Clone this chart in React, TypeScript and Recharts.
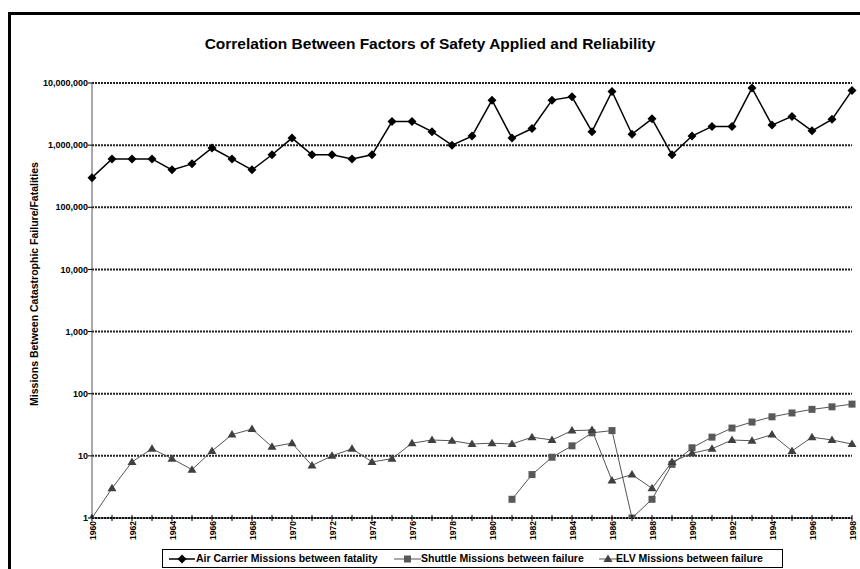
import { LineChart, Line, XAxis, YAxis, CartesianGrid } from "recharts";

const years = [
  1960, 1961, 1962, 1963, 1964, 1965, 1966, 1967, 1968, 1969,
  1970, 1971, 1972, 1973, 1974, 1975, 1976, 1977, 1978, 1979,
  1980, 1981, 1982, 1983, 1984, 1985, 1986, 1987, 1988, 1989,
  1990, 1991, 1992, 1993, 1994, 1995, 1996, 1997, 1998,
];

const airCarrier = [
  300000, 600000, 600000, 600000, 400000, 500000, 900000, 600000, 400000, 700000,
  1300000, 700000, 700000, 600000, 700000, 2400000, 2400000, 1650000, 1000000, 1400000,
  5300000, 1300000, 1850000, 5300000, 6000000, 1650000, 7300000, 1500000, 2650000, 700000,
  1400000, 2000000, 2000000, 8300000, 2100000, 2900000, 1700000, 2600000, 7600000,
];

const shuttle = [
  null, null, null, null, null, null, null, null, null, null,
  null, null, null, null, null, null, null, null, null, null,
  null, 2, 5, 9.5, 14.5, 23.5, 25.5, 1, 2, 7.3,
  13.5, 20, 28, 35, 42.5, 49, 56, 61.5, 68,
];

const elv = [
  1, 3, 8, 13, 9, 6, 12, 22, 27, 14,
  16, 7, 10, 13, 8, 9, 16, 18, 17.5, 15.5,
  16, 15.5, 20, 18, 25.5, 26, 4, 5, 3, 8,
  11, 13, 18, 17.5, 22, 12, 20, 18, 15.5,
];

const yTicks = [1, 10, 100, 1000, 10000, 100000, 1000000, 10000000];

const seriesNames = [
  "Air Carrier Missions between fatality",
  "Shuttle Missions between failure",
  "ELV Missions between failure",
];

const data = years.map((year, i) => ({
  year,
  air: airCarrier[i],
  shuttle: shuttle[i],
  elv: elv[i],
}));

const FONT = "'Liberation Sans', Arial, sans-serif";

type Shape = "diamond" | "square" | "triangle";

function marker(shape: Shape, cx: number, cy: number, fill: string) {
  if (shape === "diamond") {
    return (
      <polygon
        points={`${cx},${cy - 4.5} ${cx + 4.5},${cy} ${cx},${cy + 4.5} ${cx - 4.5},${cy}`}
        fill={fill}
      />
    );
  }
  if (shape === "square") {
    return <rect x={cx - 3.5} y={cy - 3.5} width={7} height={7} fill={fill} />;
  }
  return (
    <polygon
      points={`${cx},${cy - 4.5} ${cx + 4.5},${cy + 3} ${cx - 4.5},${cy + 3}`}
      fill={fill}
    />
  );
}

const makeDot = (shape: Shape, fill: string) => (props: any) => {
  const { cx, cy, index } = props;
  if (cx == null || cy == null || props.value == null) return <g key={index} />;
  return <g key={index}>{marker(shape, cx, cy, fill)}</g>;
};

const XTick = (props: any) => {
  const { x, y, payload } = props;
  return (
    <g>
      <line x1={x} x2={x} y1={y - 3} y2={y + 3} stroke="#000" />
      {payload.value % 2 === 0 && (
        <text
          transform={`translate(${x + 3.5},${y + 3}) rotate(-90)`}
          textAnchor="end"
          fontSize={8.5}
          fontWeight="bold"
          fontFamily={FONT}
          fill="#000"
        >
          {payload.value}
        </text>
      )}
    </g>
  );
};

// legend: left of line sample, line length, left of text
const legendItems: { name: string; shape: Shape; color: string; line: string; x: number; w: number; tx: number }[] = [
  { name: seriesNames[0], shape: "diamond", color: "#000", line: "#000", x: 6, w: 26, tx: 33 },
  { name: seriesNames[1], shape: "square", color: "#595959", line: "#555", x: 231, w: 27, tx: 258 },
  { name: seriesNames[2], shape: "triangle", color: "#404040", line: "#555", x: 436, w: 18, tx: 453 },
];

export default function App() {
  return (
    <div
      style={{
        position: "absolute",
        left: 0,
        top: 0,
        width: 860,
        height: 569,
        overflow: "hidden",
        background: "#fff",
        fontFamily: FONT,
      }}
    >
      <div
        style={{
          position: "absolute",
          left: 8,
          top: 12,
          width: 900,
          height: 600,
          border: "3px solid #000",
          boxSizing: "border-box",
        }}
      />
      <div style={{ position: "absolute", left: 0, top: 0 }}>
        <LineChart
          width={860}
          height={569}
          data={data}
          margin={{ top: 83, right: 8, left: 32, bottom: 21 }}
        >
          <CartesianGrid
            vertical={false}
            stroke="#222"
            strokeWidth={2}
            strokeDasharray="2 1"
          />
          <XAxis
            dataKey="year"
            type="number"
            domain={[1960, 1998]}
            ticks={years}
            interval={0}
            height={30}
            axisLine={{ stroke: "#000" }}
            tickLine={false}
            tickSize={0}
            tickMargin={0}
            tick={<XTick />}
          />
          <YAxis
            scale="log"
            domain={[1, 10000000]}
            ticks={yTicks}
            interval={0}
            allowDataOverflow
            width={60}
            axisLine={{ stroke: "#555" }}
            tickLine={{ stroke: "#000" }}
            tickSize={4}
            tickMargin={0}
            tick={{ fontSize: 9, fontWeight: "bold", fill: "#000", fontFamily: FONT }}
            tickFormatter={(v: number) => v.toLocaleString("en-US")}
          />
          <Line
            dataKey="air"
            name={seriesNames[0]}
            stroke="#000"
            strokeWidth={1.5}
            dot={makeDot("diamond", "#000")}
            isAnimationActive={false}
          />
          <Line
            dataKey="shuttle"
            name={seriesNames[1]}
            stroke="#555"
            strokeWidth={1}
            dot={makeDot("square", "#595959")}
            isAnimationActive={false}
          />
          <Line
            dataKey="elv"
            name={seriesNames[2]}
            stroke="#555"
            strokeWidth={1}
            dot={makeDot("triangle", "#404040")}
            isAnimationActive={false}
          />
          <text
            x={430}
            y={49}
            textAnchor="middle"
            fontSize={15.5}
            fontWeight="bold"
            fontFamily={FONT}
            fill="#000"
          >
            Correlation Between Factors of Safety Applied and Reliability
          </text>
          <text
            transform="translate(38,284) rotate(-90)"
            textAnchor="middle"
            fontSize={10.5}
            fontWeight="bold"
            fontFamily={FONT}
            fill="#000"
          >
            Missions Between Catastrophic Failure/Fatalities
          </text>
        </LineChart>
      </div>
      <div
        style={{
          position: "absolute",
          left: 162,
          top: 549,
          width: 621,
          height: 19,
          border: "1px solid #000",
          boxSizing: "border-box",
          fontSize: 10.5,
          fontWeight: "bold",
        }}
      >
        {legendItems.map((it) => (
          <div key={it.name}>
            <svg
              width={it.w}
              height={12}
              style={{ position: "absolute", left: it.x, top: 2.5 }}
            >
              <line
                x1={0}
                x2={it.w}
                y1={6}
                y2={6}
                stroke={it.line}
                strokeWidth={it.shape === "diamond" ? 1.5 : 1}
              />
              {marker(it.shape, it.w / 2, 6, it.color)}
            </svg>
            <span
              style={{ position: "absolute", left: it.tx, top: 2, lineHeight: "13px", whiteSpace: "nowrap" }}
            >
              {it.name}
            </span>
          </div>
        ))}
      </div>
    </div>
  );
}
